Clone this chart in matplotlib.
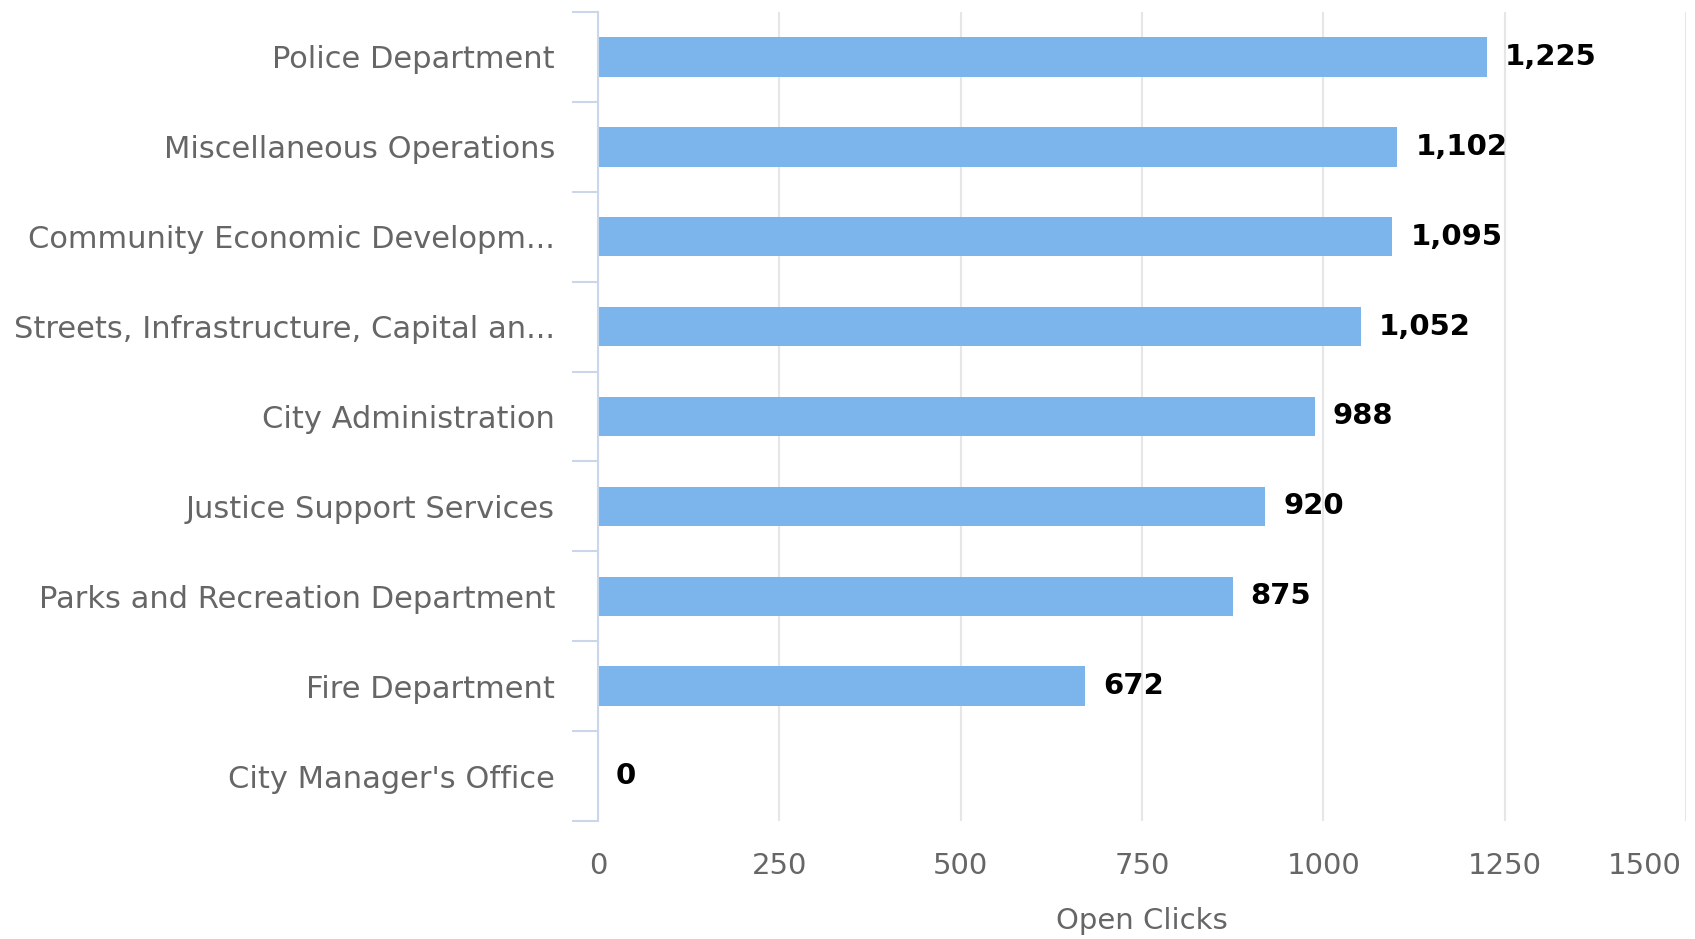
import matplotlib
matplotlib.use('Agg')
import matplotlib.pyplot as plt
import matplotlib.transforms as mtransforms
import numpy as np

# Open clicks per department
departments = [
    "Police Department",
    "Miscellaneous Operations",
    "Community Economic Developm...",
    "Streets, Infrastructure, Capital an...",
    "City Administration",
    "Justice Support Services",
    "Parks and Recreation Department",
    "Fire Department",
    "City Manager's Office",
]
open_clicks = [1225, 1102, 1095, 1052, 988, 920, 875, 672, 0]
x_ticks = [0, 250, 500, 750, 1000, 1250, 1500]

BAR_COLOR = '#7cb5ec'
AXIS_COLOR = '#ccd6eb'
GRID_COLOR = '#e6e6e6'
LABEL_COLOR = '#666666'

plt.rcParams['font.family'] = ['DejaVu Sans']

fig = plt.figure(figsize=(16.95, 9.39), dpi=100)
ax = fig.add_axes([598 / 1695, 1 - 821 / 939, (1686 - 598) / 1695, (821 - 12) / 939])

y = np.arange(len(departments))
ax.barh(y, open_clicks, height=0.44, color=BAR_COLOR, zorder=3)

ax.set_xlim(0, 1500)
ax.set_ylim(len(departments) - 0.5, -0.5)

# value labels at the end of each bar
for yi, v in zip(y, open_clicks):
    ax.annotate(f"{v:,}", xy=(v, yi), xytext=(13, 0), textcoords='offset points',
                ha='left', va='center', fontsize=21, fontweight='bold',
                color='black', zorder=4)

# category labels at centres, tick marks at category boundaries
ax.set_yticks(y)
ax.set_yticklabels(departments, fontsize=22, color=LABEL_COLOR)
ax.set_yticks(np.arange(-0.5, len(departments)), minor=True)
ax.tick_params(axis='y', which='major', length=0, pad=31)
ax.tick_params(axis='y', which='minor', length=19, width=1.5, color=AXIS_COLOR)

ax.set_xticks(x_ticks)
ax.set_xticklabels([str(t) for t in x_ticks], fontsize=21, color=LABEL_COLOR)
ax.tick_params(axis='x', length=0, pad=22)
# keep the last tick label inside the figure
last = ax.get_xticklabels()[-1]
last.set_horizontalalignment('right')
last.set_transform(last.get_transform() + mtransforms.ScaledTranslation(-4 / 100, 0, fig.dpi_scale_trans))

ax.set_xlabel("Open Clicks", fontsize=21, color=LABEL_COLOR, labelpad=20)

ax.grid(axis='x', color=GRID_COLOR, linewidth=1.5, zorder=0)
for side in ['top', 'right', 'bottom']:
    ax.spines[side].set_visible(False)
ax.spines['left'].set_color(AXIS_COLOR)
ax.spines['left'].set_linewidth(1.5)
ax.spines['left'].set_zorder(5)

fig.savefig('out.png', dpi=100, facecolor='white')
